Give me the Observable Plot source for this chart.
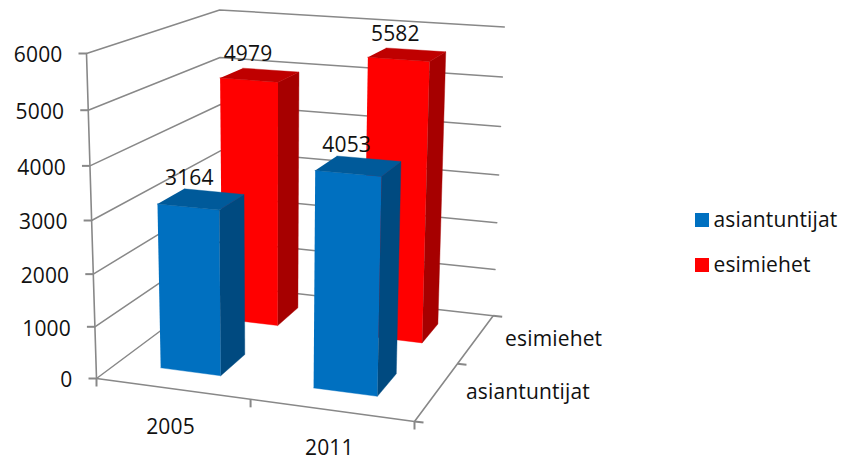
<!DOCTYPE html>
<html>
<head>
<meta charset="utf-8">
<script src="https://cdn.jsdelivr.net/npm/d3@7"></script>
<script src="https://cdn.jsdelivr.net/npm/@observablehq/plot@0.6"></script>
<style>
  html, body { margin: 0; padding: 0; background: #fff; }
</style>
</head>
<body>
<div id="chart"></div>
<script>
// Chart values
const years = ["2005", "2011"];
const seriesNames = ["asiantuntijat", "esimiehet"];
const asiantuntijat = [3164, 4053];
const esimiehet = [4979, 5582];
const valueTicks = [0, 1000, 2000, 3000, 4000, 5000, 6000];

// Shades per series: front, side and top faces of a column
const seriesShades = {
  asiantuntijat: {front: "#0070c0", side: "#004a80", top: "#005a9a"},
  esimiehet: {front: "#ff0000", side: "#a60000", top: "#bf0000"}
};

const width = 841;
const height = 461;

// Unit-box scales: u runs along the years, v into the depth, w up the values
const uScale = d3.scaleBand().domain(years).range([0, 1]).paddingInner(0.6).paddingOuter(0.3).align(0.48);
const vScale = d3.scaleBand().domain(seriesNames).range([0, 1]).paddingInner(0.6).paddingOuter(0.3);
const wScale = d3.scaleLinear().domain([0, 6000]).range([0, 1]);

// Perspective camera: origin, ends of the three box edges, and foreshortening per axis
const O = [96, 378], A = [414, 421], B = [221.5, 284.5], C = [86, 53];
const persp = {u: -0.06, v: 0.19, w: -0.054};

function project(u, v, w) {
  const d = 1 + persp.u * u + persp.v * v + persp.w * w;
  const at = (i) => (O[i]
    + u * (A[i] * (1 + persp.u) - O[i])
    + v * (B[i] * (1 + persp.v) - O[i])
    + w * (C[i] * (1 + persp.w) - O[i])) / d;
  return [at(0), at(1)];
}

// Polygons for each column, back row first so nearer columns overlap it
const valuesBySeries = {asiantuntijat, esimiehet};
const columns = ["esimiehet", "asiantuntijat"].flatMap((name) =>
  years.map((year, i) => ({year, name, value: valuesBySeries[name][i]}))
);

function faces(c) {
  const u0 = uScale(c.year), u1 = u0 + uScale.bandwidth();
  const v0 = vScale(c.name), v1 = v0 + vScale.bandwidth();
  const w = wScale(c.value);
  const shade = seriesShades[c.name];
  return [
    {fill: shade.front, pts: [project(u0, v0, 0), project(u1, v0, 0), project(u1, v0, w), project(u0, v0, w)]},
    {fill: shade.side, pts: [project(u1, v0, 0), project(u1, v1, 0), project(u1, v1, w), project(u1, v0, w)]},
    {fill: shade.top, pts: [project(u0, v0, w), project(u1, v0, w), project(u1, v1, w), project(u0, v1, w)]}
  ];
}

// Wall and floor lines
const gridPaths = valueTicks.map((t) => {
  const w = wScale(t);
  return [project(0, 0, w), project(0, 1, w), project(1, 1, w)];
});
const axisPaths = [
  [project(0, 0, 0), project(0, 0, 1)],
  [project(0, 0, 0), project(1, 0, 0), project(1, 1, 0)]
];

// Tick marks: out to the left on the value axis, down on the years, right on the depth
const tickLen = 8;
const ticks = [
  ...valueTicks.map((t) => {
    const p = project(0, 0, wScale(t));
    return [p, [p[0] - tickLen, p[1]]];
  }),
  ...[0, 0.5, 1].map((u) => {
    const p = project(u, 0, 0);
    return [p, [p[0], p[1] + tickLen]];
  }),
  ...[0, 0.5, 1].map((v) => {
    const p = project(1, v, 0);
    return [p, [p[0] + tickLen + 1, p[1] + 1]];
  })
];

const lineColor = "#888888";
const textColor = "#111";
const fontSize = 21;

const bandCenter = (scale, key) => scale(key) + scale.bandwidth() / 2;

const plot = Plot.plot({
  width,
  height,
  margin: 0,
  x: {type: "identity", axis: null},
  y: {type: "identity", axis: null},
  style: {fontFamily: "'Open Sans', sans-serif", background: "#fff", letterSpacing: "0.15px"},
  marks: [
    // Back walls and floor
    ...gridPaths.map((path) =>
      Plot.line(path, {x: (d) => d[0], y: (d) => d[1], stroke: lineColor, strokeWidth: 1.5})
    ),
    ...axisPaths.map((path) =>
      Plot.line(path, {x: (d) => d[0], y: (d) => d[1], stroke: lineColor, strokeWidth: 1.6})
    ),
    Plot.link(ticks, {
      x1: (d) => d[0][0], y1: (d) => d[0][1],
      x2: (d) => d[1][0], y2: (d) => d[1][1],
      stroke: lineColor, strokeWidth: 2
    }),

    // Columns
    ...columns.flatMap(faces).map((f) =>
      Plot.line(f.pts, {x: (d) => d[0], y: (d) => d[1], fill: f.fill, stroke: f.fill, strokeWidth: 0.4})
    ),

    // Value labels above the columns
    Plot.text(columns, {
      x: (c) => project(bandCenter(uScale, c.year), bandCenter(vScale, c.name), wScale(c.value))[0],
      y: (c) => project(bandCenter(uScale, c.year), bandCenter(vScale, c.name), wScale(c.value))[1],
      text: (c) => String(c.value),
      dx: -12, dy: -20.5,
      fontSize, fill: textColor
    }),

    // Value axis labels
    Plot.text(valueTicks, {
      x: (t) => project(0, 0, wScale(t))[0],
      y: (t) => project(0, 0, wScale(t))[1],
      text: (t) => String(t),
      dx: -24, dy: 2,
      textAnchor: "end",
      fontSize, fill: textColor
    }),

    // Year labels, kept clear of the bottom edge
    Plot.text(years, {
      x: (y) => project(bandCenter(uScale, y), 0, 0)[0],
      y: (y) => project(bandCenter(uScale, y), 0, 0)[1],
      text: (y) => y,
      dx: 0, dy: 38.5,
      fontSize, fill: textColor
    }),

    // Depth labels
    Plot.text(seriesNames, {
      x: (s) => project(1, bandCenter(vScale, s), 0)[0],
      y: (s) => project(1, bandCenter(vScale, s), 0)[1],
      text: (s) => s,
      dx: 29, dy: 1,
      textAnchor: "start",
      fontSize, fill: textColor
    }),

    // Legend
    Plot.rect(seriesNames, {
      x1: 695, x2: 709,
      y1: (s, i) => 213 + i * 45,
      y2: (s, i) => 227 + i * 45,
      fill: (s) => seriesShades[s].front
    }),
    Plot.text(seriesNames, {
      x: 713,
      y: (s, i) => 220 + i * 45,
      text: (s) => s,
      textAnchor: "start",
      fontSize, fill: textColor
    })
  ]
});

document.getElementById("chart").appendChild(plot);
</script>
</body>
</html>
